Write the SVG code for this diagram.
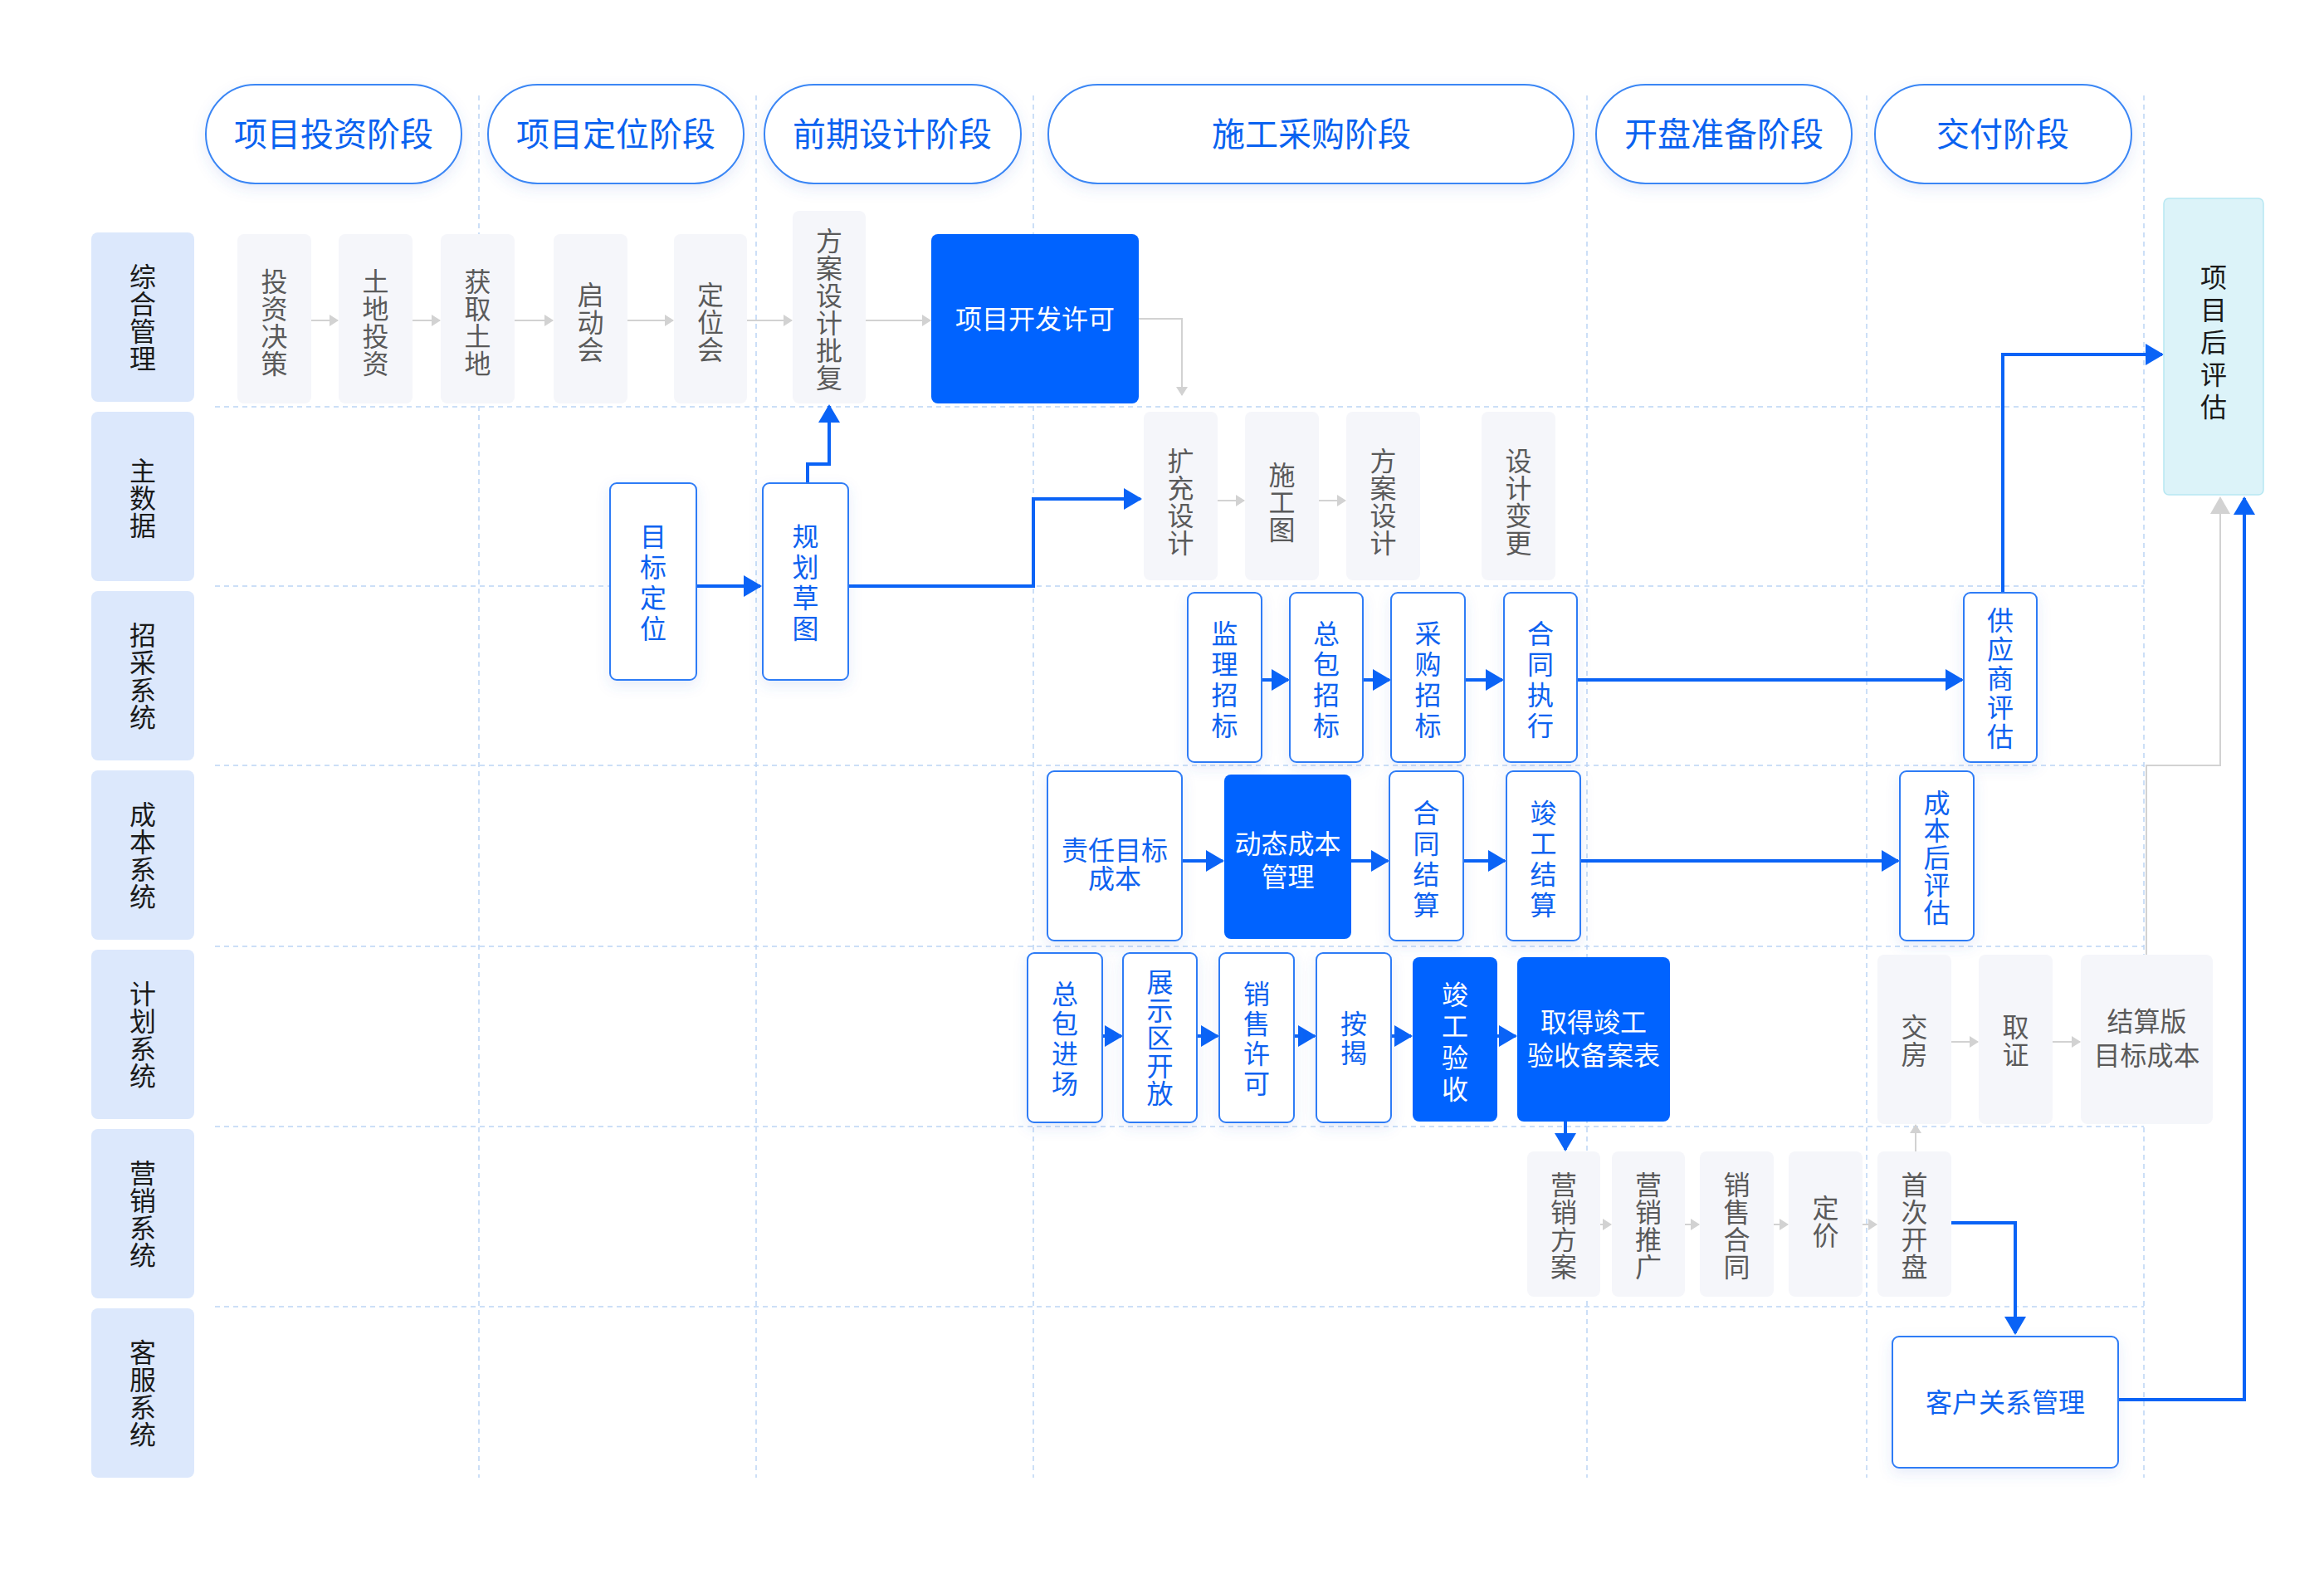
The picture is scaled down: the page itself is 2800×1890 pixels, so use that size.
<svg xmlns="http://www.w3.org/2000/svg" width="2800" height="1890" viewBox="0 0 2800 1890">
<style>
.t{font-family:"Noto Sans CJK SC","Noto Sans",sans-serif;font-size:32px;text-anchor:middle}
.v{writing-mode:vertical-rl;text-orientation:upright}
.tp{font-family:"Noto Sans CJK SC","Noto Sans",sans-serif;font-size:40px;text-anchor:middle;fill:#0a62f0}
.tb{fill:#0d62f0}.tw{fill:#ffffff}.tg{fill:#5a5a5a}.tk{fill:#1a1a1a}
.lane{fill:#dce8fc}
.pill{fill:#ffffff;stroke:#3a86f5;stroke-width:2}
.gn{fill:#f5f6fa}
.wn{fill:#ffffff;stroke:#2f7cf6;stroke-width:2}
.bn{fill:#0063ff}
.grid{stroke:#bcd5f5;stroke-width:1.5;stroke-dasharray:6 5;fill:none}
.cb{stroke:#0a63f6;stroke-width:4;fill:none}
.cg{stroke:#d2d2d2;stroke-width:2;fill:none}
</style>
<defs>
<filter id="sh" x="-30%" y="-30%" width="160%" height="160%">
<feDropShadow dx="0" dy="6" stdDeviation="8" flood-color="#3f6fd0" flood-opacity="0.13"/>
</filter>
<marker id="ab" markerUnits="userSpaceOnUse" markerWidth="24" markerHeight="28" refX="20" refY="13" orient="auto"><path d="M0,0 L22,13 L0,26 Z" fill="#0a63f6"/></marker>
<marker id="ag" markerUnits="userSpaceOnUse" markerWidth="12" markerHeight="14" refX="10" refY="7" orient="auto"><path d="M0,0 L11,7 L0,14 Z" fill="#d2d2d2"/></marker>
<marker id="agl" markerUnits="userSpaceOnUse" markerWidth="24" markerHeight="26" refX="19" refY="12" orient="auto"><path d="M0,0 L21,12 L0,24 Z" fill="#d2d2d2"/></marker>
</defs>
<rect width="2800" height="1890" fill="#ffffff"/>

<g id="grid">
<path class="grid" d="M577,115V1780M911,115V1780M1245,115V1780M1912,115V1780M2249,115V1780M2583,115V1780"/>
<path class="grid" d="M259,490H2583M259,706H2583M259,922H2583M259,1140H2583M259,1357H2583M259,1574H2583"/>
</g>

<g id="phases">
<g id="p1"><rect class="pill" filter="url(#sh)" x="248" y="102" width="308" height="119" rx="59.5"/><text class="tp" x="402" y="176">项目投资阶段</text></g>
<g id="p2"><rect class="pill" filter="url(#sh)" x="588" y="102" width="308" height="119" rx="59.5"/><text class="tp" x="742" y="176">项目定位阶段</text></g>
<g id="p3"><rect class="pill" filter="url(#sh)" x="921" y="102" width="309" height="119" rx="59.5"/><text class="tp" x="1075" y="176">前期设计阶段</text></g>
<g id="p4"><rect class="pill" filter="url(#sh)" x="1263" y="102" width="633" height="119" rx="59.5"/><text class="tp" x="1580" y="176">施工采购阶段</text></g>
<g id="p5"><rect class="pill" filter="url(#sh)" x="1923" y="102" width="308" height="119" rx="59.5"/><text class="tp" x="2077" y="176">开盘准备阶段</text></g>
<g id="p6"><rect class="pill" filter="url(#sh)" x="2259" y="102" width="309" height="119" rx="59.5"/><text class="tp" x="2413" y="176">交付阶段</text></g>
</g>

<g id="lanes">
<g id="l1"><rect class="lane" x="110" y="280" width="124" height="204" rx="8"/><text class="t v tk" x="172" y="383" letter-spacing="1">综合管理</text></g>
<g id="l2"><rect class="lane" x="110" y="496" width="124" height="204" rx="8"/><text class="t v tk" x="172" y="600" letter-spacing="1">主数据</text></g>
<g id="l3"><rect class="lane" x="110" y="712" width="124" height="204" rx="8"/><text class="t v tk" x="172" y="815" letter-spacing="1">招采系统</text></g>
<g id="l4"><rect class="lane" x="110" y="928" width="124" height="204" rx="8"/><text class="t v tk" x="172" y="1031" letter-spacing="1">成本系统</text></g>
<g id="l5"><rect class="lane" x="110" y="1144" width="124" height="204" rx="8"/><text class="t v tk" x="172" y="1247" letter-spacing="1">计划系统</text></g>
<g id="l6"><rect class="lane" x="110" y="1360" width="124" height="204" rx="8"/><text class="t v tk" x="172" y="1463" letter-spacing="1">营销系统</text></g>
<g id="l7"><rect class="lane" x="110" y="1576" width="124" height="204" rx="8"/><text class="t v tk" x="172" y="1679" letter-spacing="1">客服系统</text></g>
</g>

<g id="connectors">
<path class="cg" marker-end="url(#ag)" d="M375,386H407"/>
<path class="cg" marker-end="url(#ag)" d="M497,386H530"/>
<path class="cg" marker-end="url(#ag)" d="M620,386H666"/>
<path class="cg" marker-end="url(#ag)" d="M756,386H811"/>
<path class="cg" marker-end="url(#ag)" d="M900,386H954"/>
<path class="cg" marker-end="url(#ag)" d="M1043,386H1121"/>
<path class="cg" marker-end="url(#ag)" d="M1372,384H1424V476"/>
<path class="cg" marker-end="url(#ag)" d="M1467,603H1499"/>
<path class="cg" marker-end="url(#ag)" d="M1589,603H1621"/>
<path class="cg" marker-end="url(#ag)" d="M2351,1255H2383"/>
<path class="cg" marker-end="url(#ag)" d="M2473,1255H2506"/>
<path class="cg" marker-end="url(#ag)" d="M1928,1475H1941"/>
<path class="cg" marker-end="url(#ag)" d="M2030,1475H2047"/>
<path class="cg" marker-end="url(#ag)" d="M2137,1475H2154"/>
<path class="cg" marker-end="url(#ag)" d="M2244,1475H2261"/>
<path class="cg" marker-end="url(#ag)" d="M2308,1387V1355"/>
<path class="cg" stroke-width="2.5" marker-end="url(#agl)" d="M2586,1150V922H2675V600"/>

<path class="cb" marker-end="url(#ab)" d="M839,706H916"/>
<path class="cb" marker-end="url(#ab)" d="M973,582V559H999V489"/>
<path class="cb" marker-end="url(#ab)" d="M1022,706H1245V601H1374"/>
<path class="cb" marker-end="url(#ab)" d="M1520,819H1552"/>
<path class="cb" marker-end="url(#ab)" d="M1642,819H1674"/>
<path class="cb" marker-end="url(#ab)" d="M1765,819H1810"/>
<path class="cb" marker-end="url(#ab)" d="M1900,819H2364"/>
<path class="cb" marker-end="url(#ab)" d="M2413,714V427H2605"/>
<path class="cb" marker-end="url(#ab)" d="M1424,1037H1473"/>
<path class="cb" marker-end="url(#ab)" d="M1628,1037H1672"/>
<path class="cb" marker-end="url(#ab)" d="M1763,1037H1813"/>
<path class="cb" marker-end="url(#ab)" d="M1904,1037H2287"/>
<path class="cb" marker-end="url(#ab)" d="M1328,1248H1351"/>
<path class="cb" marker-end="url(#ab)" d="M1442,1248H1467"/>
<path class="cb" marker-end="url(#ab)" d="M1559,1248H1584"/>
<path class="cb" marker-end="url(#ab)" d="M1676,1248H1700"/>
<path class="cb" marker-end="url(#ab)" d="M1804,1248H1826"/>
<path class="cb" marker-end="url(#ab)" d="M1886,1351V1385"/>
<path class="cb" marker-end="url(#ab)" d="M2351,1473H2428V1606"/>
<path class="cb" marker-end="url(#ab)" d="M2552,1686H2704V600"/>
</g>

<g id="nodes">
<g id="n-tzjc"><rect class="gn" x="286" y="282" width="89" height="204" rx="8"/><text class="t v tg" x="330.5" y="389" letter-spacing="1">投资决策</text></g>
<g id="n-tdtz"><rect class="gn" x="408" y="282" width="89" height="204" rx="8"/><text class="t v tg" x="452.5" y="389" letter-spacing="1">土地投资</text></g>
<g id="n-hqtd"><rect class="gn" x="531" y="282" width="89" height="204" rx="8"/><text class="t v tg" x="575.5" y="389" letter-spacing="1">获取土地</text></g>
<g id="n-qdh"><rect class="gn" x="667" y="282" width="89" height="204" rx="8"/><text class="t v tg" x="711.5" y="388.5" letter-spacing="1">启动会</text></g>
<g id="n-dwh"><rect class="gn" x="812" y="282" width="88" height="204" rx="8"/><text class="t v tg" x="856" y="388.5" letter-spacing="1">定位会</text></g>
<g id="n-fasjpf"><rect class="gn" x="955" y="254" width="88" height="232" rx="8"/><text class="t v tg" x="999" y="373" letter-spacing="1">方案设计批复</text></g>
<g id="n-xmkfxk"><rect class="bn" x="1122" y="282" width="250" height="204" rx="8"/><text class="t tw" x="1247" y="396">项目开发许可</text></g>

<g id="n-mbdw"><rect class="wn" filter="url(#sh)" x="735" y="582" width="104" height="237" rx="8"/><text class="t v tb" x="787" y="704" letter-spacing="5">目标定位</text></g>
<g id="n-ghct"><rect class="wn" filter="url(#sh)" x="919" y="582" width="103" height="237" rx="8"/><text class="t v tb" x="970.5" y="704" letter-spacing="5">规划草图</text></g>
<g id="n-kcsj"><rect class="gn" x="1378" y="496" width="89" height="203" rx="8"/><text class="t v tg" x="1422.5" y="605" letter-spacing="1">扩充设计</text></g>
<g id="n-sgt"><rect class="gn" x="1500" y="496" width="89" height="203" rx="8"/><text class="t v tg" x="1544.5" y="605.5" letter-spacing="1">施工图</text></g>
<g id="n-fasj"><rect class="gn" x="1622" y="496" width="89" height="203" rx="8"/><text class="t v tg" x="1666.5" y="605" letter-spacing="1">方案设计</text></g>
<g id="n-sjbg"><rect class="gn" x="1785" y="496" width="89" height="203" rx="8"/><text class="t v tg" x="1829.5" y="605" letter-spacing="1">设计变更</text></g>

<g id="n-jlzb"><rect class="wn" filter="url(#sh)" x="1431" y="714" width="89" height="204" rx="8"/><text class="t v tb" x="1475.5" y="821" letter-spacing="5">监理招标</text></g>
<g id="n-zbzb"><rect class="wn" filter="url(#sh)" x="1554" y="714" width="88" height="204" rx="8"/><text class="t v tb" x="1598" y="821" letter-spacing="5">总包招标</text></g>
<g id="n-cgzb"><rect class="wn" filter="url(#sh)" x="1676" y="714" width="89" height="204" rx="8"/><text class="t v tb" x="1720.5" y="821" letter-spacing="5">采购招标</text></g>
<g id="n-htzx"><rect class="wn" filter="url(#sh)" x="1812" y="714" width="88" height="204" rx="8"/><text class="t v tb" x="1856" y="821" letter-spacing="5">合同执行</text></g>
<g id="n-gyspg"><rect class="wn" filter="url(#sh)" x="2366" y="714" width="88" height="204" rx="8"/><text class="t v tb" x="2410" y="818.5" letter-spacing="3">供应商评估</text></g>
<g id="n-xmhpg"><rect x="2607" y="239" width="120" height="357" rx="6" fill="#dcf3f9" stroke="#b6e7f2" stroke-width="1.5"/><text class="t v tk" x="2667" y="415.5" letter-spacing="7">项目后评估</text></g>

<g id="n-zrmbcb"><rect class="wn" filter="url(#sh)" x="1262" y="929" width="162" height="204" rx="8"/><text class="t tb"><tspan x="1343" y="1036">责任目标</tspan><tspan x="1343" y="1070">成本</tspan></text></g>
<g id="n-dtcbgl"><rect class="bn" x="1475" y="933" width="153" height="198" rx="8"/><text class="t tw"><tspan x="1551.5" y="1028">动态成本</tspan><tspan x="1551.5" y="1068">管理</tspan></text></g>
<g id="n-htjs"><rect class="wn" filter="url(#sh)" x="1674" y="929" width="89" height="204" rx="8"/><text class="t v tb" x="1718.5" y="1037" letter-spacing="5">合同结算</text></g>
<g id="n-jgjs"><rect class="wn" filter="url(#sh)" x="1815" y="929" width="89" height="204" rx="8"/><text class="t v tb" x="1859.5" y="1037" letter-spacing="5">竣工结算</text></g>
<g id="n-cbhpg"><rect class="wn" filter="url(#sh)" x="2289" y="929" width="89" height="204" rx="8"/><text class="t v tb" x="2333.5" y="1033.5" letter-spacing="1">成本后评估</text></g>

<g id="n-zbjc"><rect class="wn" filter="url(#sh)" x="1238" y="1148" width="90" height="204" rx="8"/><text class="t v tb" x="1283" y="1253" letter-spacing="4">总包进场</text></g>
<g id="n-zsqkf"><rect class="wn" filter="url(#sh)" x="1353" y="1148" width="89" height="204" rx="8"/><text class="t v tb" x="1397.5" y="1251" letter-spacing="1.5">展示区开放</text></g>
<g id="n-xsxk"><rect class="wn" filter="url(#sh)" x="1469" y="1148" width="90" height="204" rx="8"/><text class="t v tb" x="1514" y="1253" letter-spacing="4">销售许可</text></g>
<g id="n-aj"><rect class="wn" filter="url(#sh)" x="1586" y="1148" width="90" height="204" rx="8"/><text class="t v tb" x="1631" y="1252" letter-spacing="3">按揭</text></g>
<g id="n-jgys"><rect class="bn" x="1702" y="1153" width="102" height="198" rx="8"/><text class="t v tw" x="1753" y="1258" letter-spacing="6">竣工验收</text></g>
<g id="n-qdjg"><rect class="bn" x="1828" y="1153" width="184" height="198" rx="8"/><text class="t tw"><tspan x="1920" y="1243">取得竣工</tspan><tspan x="1920" y="1283">验收备案表</tspan></text></g>
<g id="n-jf"><rect class="gn" x="2262" y="1150" width="89" height="204" rx="8"/><text class="t v tg" x="2306.5" y="1254" letter-spacing="1">交房</text></g>
<g id="n-qz"><rect class="gn" x="2384" y="1150" width="89" height="204" rx="8"/><text class="t v tg" x="2428.5" y="1254" letter-spacing="1">取证</text></g>
<g id="n-jsbmbcb"><rect class="gn" x="2507" y="1150" width="159" height="204" rx="8"/><text class="t tg"><tspan x="2586.5" y="1242">结算版</tspan><tspan x="2586.5" y="1283">目标成本</tspan></text></g>

<g id="n-yxfa"><rect class="gn" x="1840" y="1387" width="88" height="175" rx="8"/><text class="t v tg" x="1884" y="1477" letter-spacing="1">营销方案</text></g>
<g id="n-yxtg"><rect class="gn" x="1942" y="1387" width="88" height="175" rx="8"/><text class="t v tg" x="1986" y="1477" letter-spacing="1">营销推广</text></g>
<g id="n-xsht"><rect class="gn" x="2048" y="1387" width="89" height="175" rx="8"/><text class="t v tg" x="2092.5" y="1477" letter-spacing="1">销售合同</text></g>
<g id="n-dj"><rect class="gn" x="2155" y="1387" width="89" height="175" rx="8"/><text class="t v tg" x="2199.5" y="1472" letter-spacing="1">定价</text></g>
<g id="n-sckp"><rect class="gn" x="2262" y="1387" width="89" height="175" rx="8"/><text class="t v tg" x="2306.5" y="1477" letter-spacing="1">首次开盘</text></g>

<g id="n-khgxgl"><rect class="wn" filter="url(#sh)" x="2280" y="1610" width="272" height="158" rx="8"/><text class="t tb" x="2416" y="1701">客户关系管理</text></g>
</g>
</svg>
